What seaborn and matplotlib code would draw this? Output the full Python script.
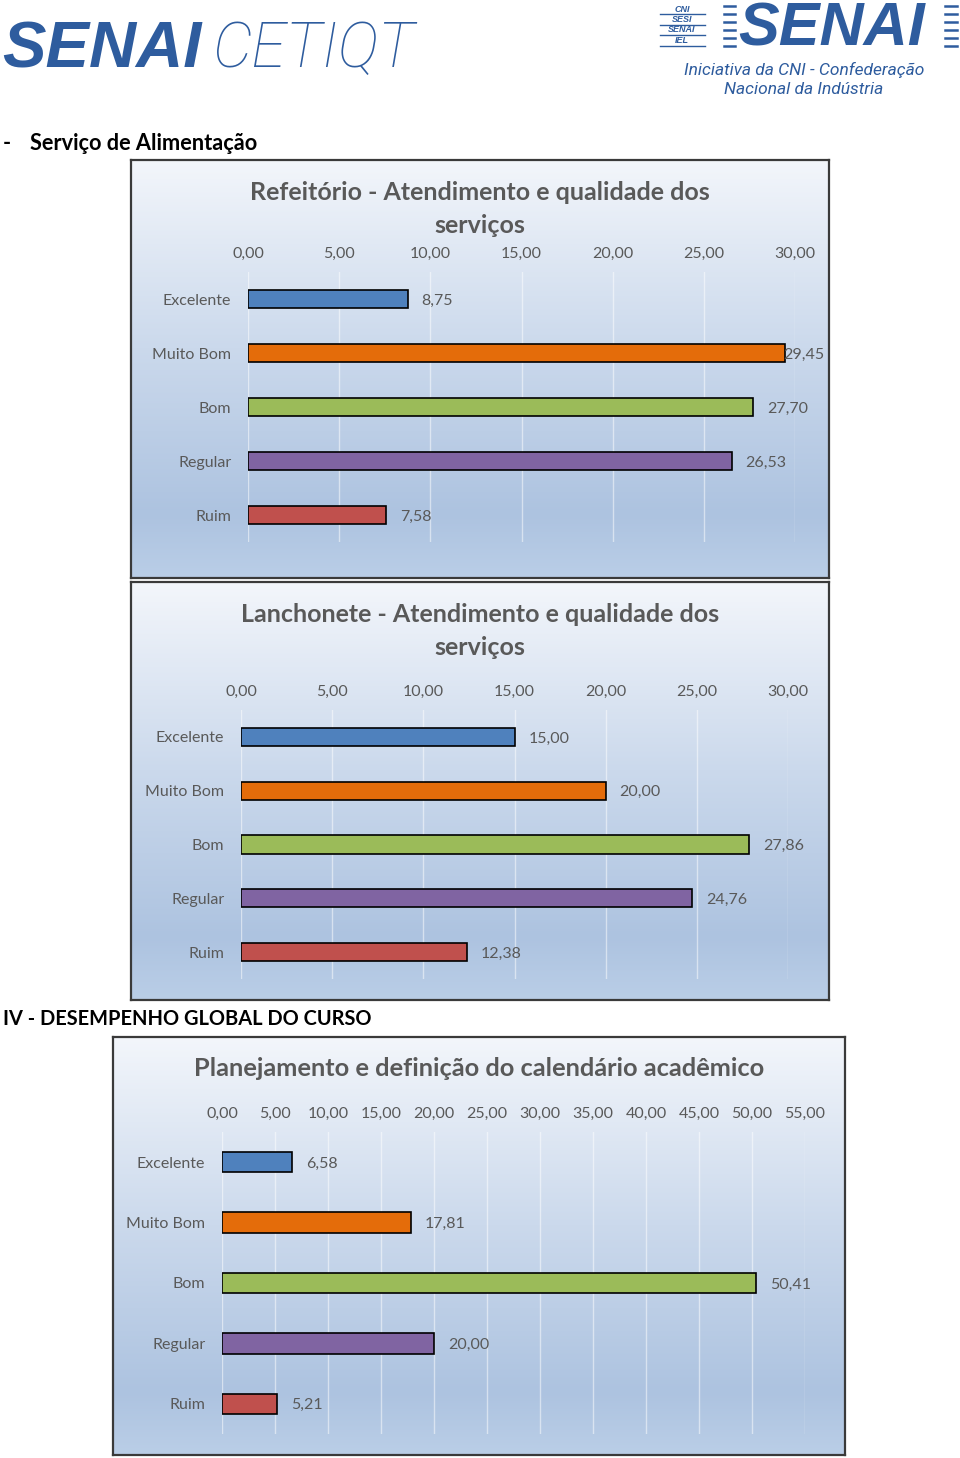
import numpy as np
import matplotlib
matplotlib.use("Agg")
import matplotlib.pyplot as plt
from matplotlib.colors import LinearSegmentedColormap
from matplotlib.lines import Line2D
import seaborn as sns

# ---------------- data ----------------
categorias = ["Excelente", "Muito Bom", "Bom", "Regular", "Ruim"]
cores = ["#4F81BD", "#E46C0A", "#9BBB59", "#8064A2", "#C0504D"]

refeitorio = [8.75, 29.45, 27.70, 26.53, 7.58]
lanchonete = [15.00, 20.00, 27.86, 24.76, 12.38]
calendario = [6.58, 17.81, 50.41, 20.00, 5.21]

ticks_30 = [0, 5, 10, 15, 20, 25, 30]
ticks_55 = [0, 5, 10, 15, 20, 25, 30, 35, 40, 45, 50, 55]

titulo1 = "Refeitório - Atendimento e qualidade dos\nserviços"
titulo2 = "Lanchonete - Atendimento e qualidade dos\nserviços"
titulo3 = "Planejamento e definição do calendário acadêmico"

# ---------------- figure ----------------
W, H = 960, 1458
fig = plt.figure(figsize=(W / 100, H / 100), dpi=100)
fig.patch.set_facecolor("white")

FONT = ["Lato", "DejaVu Sans"]
GRAY = "#595959"
BLUE = "#2E5C9E"


def fx(x):
    return x / W


def fy(y):
    return 1 - y / H


def fmt(v):
    return f"{v:.2f}".replace(".", ",")


grad_cmap = LinearSegmentedColormap.from_list(
    "bg", [(0.0, "#f3f6fb"), (0.45, "#cbd9ec"), (0.85, "#adc3e0"), (1.0, "#bacee7")]
)


def chart_box(x0, y0, x1, y1):
    bg = fig.add_axes([fx(x0), fy(y1), (x1 - x0) / W, (y1 - y0) / H])
    grad = np.linspace(0, 1, 256).reshape(-1, 1)
    bg.imshow(grad, aspect="auto", cmap=grad_cmap, extent=[0, 1, 0, 1], origin="upper")
    bg.set_xticks([])
    bg.set_yticks([])
    for s in bg.spines.values():
        s.set_color("#3a3a3a")
        s.set_linewidth(1.6)
    return bg


def chart(values, ticks, title, box, area, title_y, title_size=18):
    x0, y0, x1, y1 = box
    chart_box(x0, y0, x1, y1)
    ax0, ay0, ax1, ay1 = area
    ax = fig.add_axes([fx(ax0), fy(ay1), (ax1 - ax0) / W, (ay1 - ay0) / H])
    ax.set_facecolor("none")
    sns.barplot(x=values, y=categorias, hue=categorias, palette=cores, legend=False,
                orient="h", width=0.34, edgecolor="black", linewidth=1.2,
                saturation=1, ax=ax)
    xmax = ticks[-1]
    ax.set_xlim(0, xmax)
    for cont, v in zip(ax.containers, values):
        pad = 10 if v < 0.95 * xmax else -1
        txts = ax.bar_label(cont, labels=[fmt(v)], padding=pad, fontsize=11.5,
                            color=GRAY, family=FONT)
        for t in txts:
            t.set_va("center_baseline")
    ax.xaxis.tick_top()
    ax.set_xticks(ticks)
    ax.set_xticklabels([fmt(t) for t in ticks], family=FONT)
    ax.tick_params(axis="x", length=0, pad=8, labelsize=11.5, labelcolor=GRAY)
    ax.tick_params(axis="y", length=0, pad=12, labelsize=11.5, labelcolor=GRAY)
    for lab in ax.get_yticklabels():
        lab.set_family(FONT)
    ax.grid(axis="x", color="white", alpha=0.5, linewidth=1.0)
    ax.grid(axis="y", visible=False)
    ax.set_axisbelow(True)
    for s in ax.spines.values():
        s.set_visible(False)
    ax.set_xlabel("")
    ax.set_ylabel("")
    fig.text(fx((x0 + x1) / 2), fy(title_y), title, ha="center", va="center",
             fontsize=title_size, fontweight="bold", color=GRAY, family=FONT,
             linespacing=1.5)
    return ax


# ---------------- header logos ----------------
fig.text(fx(2), fy(50), "SENAI", fontsize=47, fontweight="heavy", fontstyle="italic",
         color=BLUE, family=["Liberation Sans", "DejaVu Sans"], va="center", ha="left")
fig.text(fx(212), fy(50), "CETIQT", fontsize=45, fontweight="light", fontstyle="italic",
         color=BLUE, family=["Roboto", "Liberation Sans"], va="center", ha="left")

# right logo
fig.text(fx(738), fy(46), "SENAI", fontsize=44, fontweight="bold", fontstyle="italic",
         color=BLUE, family=["Liberation Sans", "DejaVu Sans"], va="baseline", ha="left")
for i, word in enumerate(["CNI", "SESI", "SENAI", "IEL"]):
    yy = 9 + i * 10.5
    fig.text(fx(682), fy(yy), word, fontsize=6.5, fontweight="bold", fontstyle="italic",
             color=BLUE, family=["Liberation Sans"], va="center", ha="center")
    fig.add_artist(Line2D([fx(660), fx(705)], [fy(yy + 5.2), fy(yy + 5.2)],
                          color=BLUE, lw=1.0, transform=fig.transFigure))
for i in range(6):
    yy = 6 + i * 8
    fig.add_artist(Line2D([fx(724), fx(735)], [fy(yy), fy(yy)], color=BLUE, lw=1.8,
                          transform=fig.transFigure))
    fig.add_artist(Line2D([fx(945), fx(957)], [fy(yy), fy(yy)], color=BLUE, lw=1.8,
                          transform=fig.transFigure))
fig.text(fx(804), fy(70), "Iniciativa da CNI - Confederação", fontsize=12.5, fontstyle="italic",
         color=BLUE, family=["Roboto", "Liberation Sans"], va="center", ha="center")
fig.text(fx(804), fy(90), "Nacional da Indústria", fontsize=12.5, fontstyle="italic",
         color=BLUE, family=["Roboto", "Liberation Sans"], va="center", ha="center")

# ---------------- section headings ----------------
fig.text(fx(3), fy(144), "-", fontsize=15.5, fontweight="bold", color="black",
         family=FONT, va="center", ha="left")
fig.text(fx(30), fy(144), "Serviço de Alimentação", fontsize=15.7, fontweight="bold",
         color="black", family=FONT, va="center", ha="left")
fig.text(fx(3), fy(1019), "IV - DESEMPENHO GLOBAL DO CURSO", fontsize=14.4, fontweight="bold",
         color="black", family=FONT, va="center", ha="left")

# ---------------- charts ----------------
chart(refeitorio, ticks_30, titulo1, (131, 160, 829, 578), (248, 272, 795, 542), 209)
chart(lanchonete, ticks_30, titulo2, (131, 582, 829, 1000), (241, 710, 788, 979), 631)
chart(calendario, ticks_55, titulo3, (113, 1037, 845, 1455), (222, 1132, 805, 1434), 1069,
      title_size=18.3)

fig.savefig("out.png", dpi=100, facecolor="white")
